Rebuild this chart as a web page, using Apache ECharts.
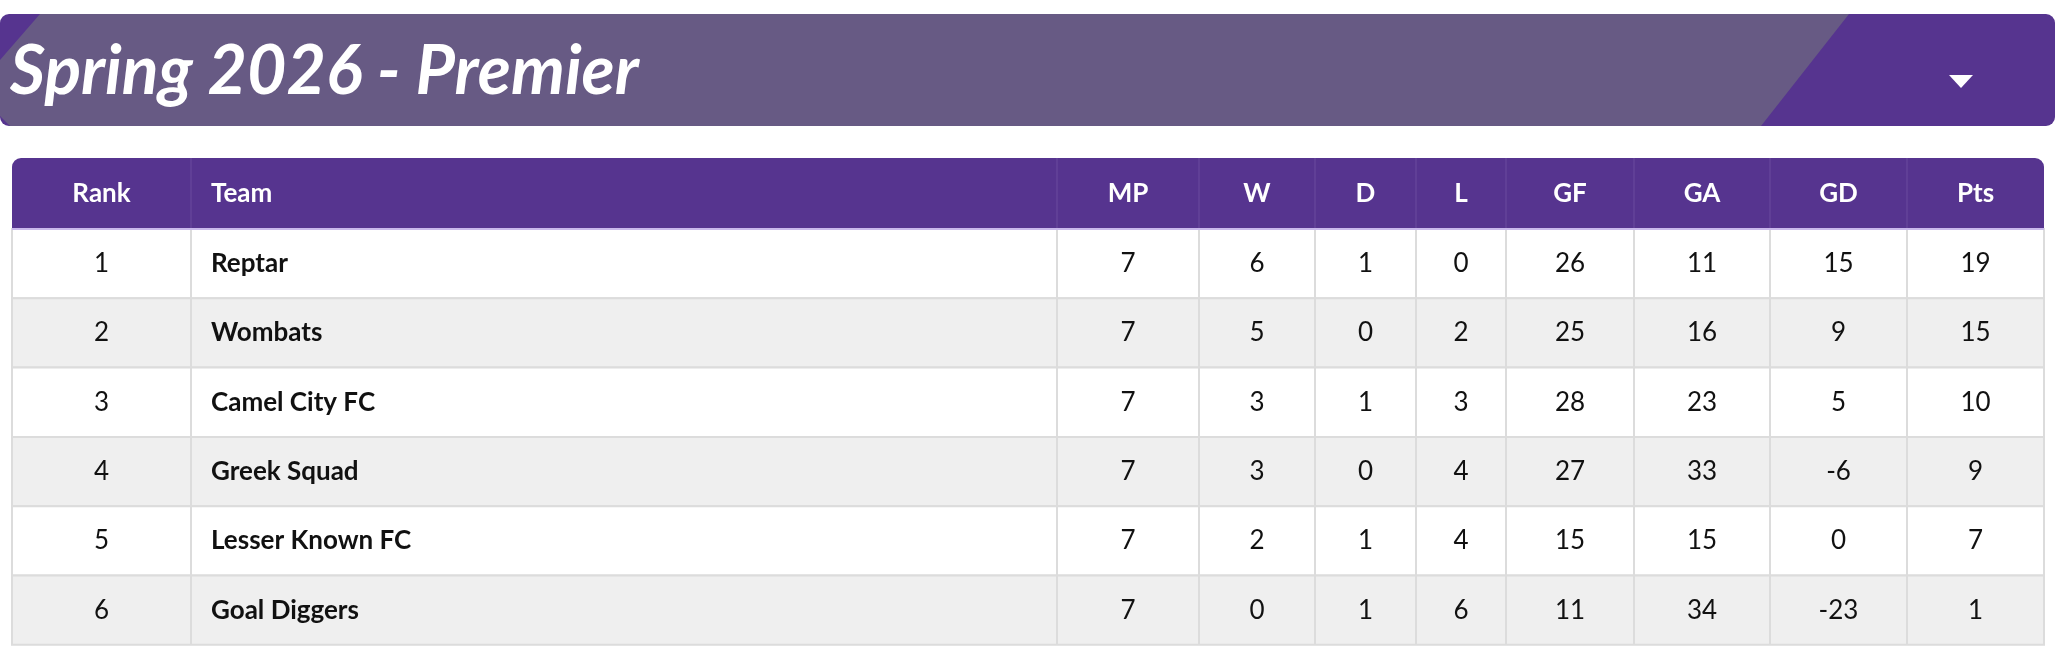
<!DOCTYPE html>
<html>
<head>
<meta charset="utf-8">
<title>Standings</title>
<script src="https://cdn.jsdelivr.net/npm/echarts@6/dist/echarts.min.js"></script>
<style>html,body{margin:0;padding:0;background:#fff}#main{width:2064px;height:672px}</style>
</head>
<body>
<div id="main"></div>
<script>
var title = 'Spring 2026 - Premier';
var headers = ['Rank', 'Team', 'MP', 'W', 'D', 'L', 'GF', 'GA', 'GD', 'Pts'];
var ranks = [1, 2, 3, 4, 5, 6];
var teams = ['Reptar', 'Wombats', 'Camel City FC', 'Greek Squad', 'Lesser Known FC', 'Goal Diggers'];
var mp = [7, 7, 7, 7, 7, 7];
var wins = [6, 5, 3, 3, 2, 0];
var draws = [1, 0, 1, 0, 1, 1];
var losses = [0, 2, 3, 4, 4, 6];
var gf = [26, 25, 28, 27, 15, 11];
var ga = [11, 16, 23, 33, 15, 34];
var gd = [15, 9, 5, -6, 0, -23];
var pts = [19, 15, 10, 9, 7, 1];

var myChart = echarts.init(document.getElementById('main'), null, { renderer: 'canvas' });

// column edges in px
var edges = [12, 191, 1057, 1199, 1315, 1416, 1506, 1634, 1770, 1907, 2044];
var headTop = 158, headH = 71, rowH = 69.3;
var font = 'Lato, "Noto Sans", sans-serif';
var columns = [ranks, teams, mp, wins, draws, losses, gf, ga, gd, pts];

var els = [];
// banner
els.push({ type: 'rect', shape: { x: 0, y: 14, width: 2055, height: 112, r: 9 }, style: { fill: '#56348f' } });
els.push({ type: 'polygon', shape: { points: [[40, 14], [1849, 14], [1761, 126], [10, 126], [0, 116], [0, 60]] }, style: { fill: '#675a84' } });
els.push({ type: 'text', style: { text: title, x: 10, y: 72, verticalAlign: 'middle', fill: '#fff',
  font: 'italic bold 68px ' + font } });
els.push({ type: 'polygon', shape: { points: [[1949, 75], [1973, 75], [1961, 88]] }, style: { fill: '#fff' } });

// table header
els.push({ type: 'rect', shape: { x: edges[0], y: headTop, width: edges[10] - edges[0], height: headH, r: [9, 9, 0, 0] }, style: { fill: '#56348f' } });

for (var r = 0; r < teams.length; r++) {
  var y = headTop + headH + r * rowH;
  els.push({ type: 'rect', shape: { x: edges[0], y: y, width: edges[10] - edges[0], height: rowH },
    style: { fill: r % 2 ? '#efefef' : '#fff', stroke: '#dcdcdc', lineWidth: 2 } });
}
for (var c = 1; c < 10; c++) {
  els.push({ type: 'line', shape: { x1: edges[c], y1: headTop, x2: edges[c], y2: headTop + headH },
    style: { stroke: '#6a4a9e', lineWidth: 1 } });
  els.push({ type: 'line', shape: { x1: edges[c], y1: headTop + headH, x2: edges[c], y2: headTop + headH + teams.length * rowH },
    style: { stroke: '#dcdcdc', lineWidth: 2 } });
}
els.push({ type: 'line', shape: { x1: edges[0], y1: headTop + headH, x2: edges[10], y2: headTop + headH },
  style: { stroke: '#c9b8ec', lineWidth: 2 } });

for (var c = 0; c < 10; c++) {
  var left = c === 1;
  var x = left ? edges[1] + 20 : (edges[c] + edges[c + 1]) / 2;
  els.push({ type: 'text', style: { text: headers[c], x: x, y: headTop + headH / 2, align: left ? 'left' : 'center',
    verticalAlign: 'middle', fill: '#fff', font: 'bold 26px ' + font } });
  for (var r = 0; r < teams.length; r++) {
    els.push({ type: 'text', style: { text: String(columns[c][r]), x: x, y: headTop + headH + r * rowH + rowH / 2,
      align: left ? 'left' : 'center', verticalAlign: 'middle', fill: '#111', font: (left ? 'bold ' : '') + '26px ' + font } });
  }
}

myChart.setOption({ animation: false, graphic: { elements: els } });
</script>
</body>
</html>
